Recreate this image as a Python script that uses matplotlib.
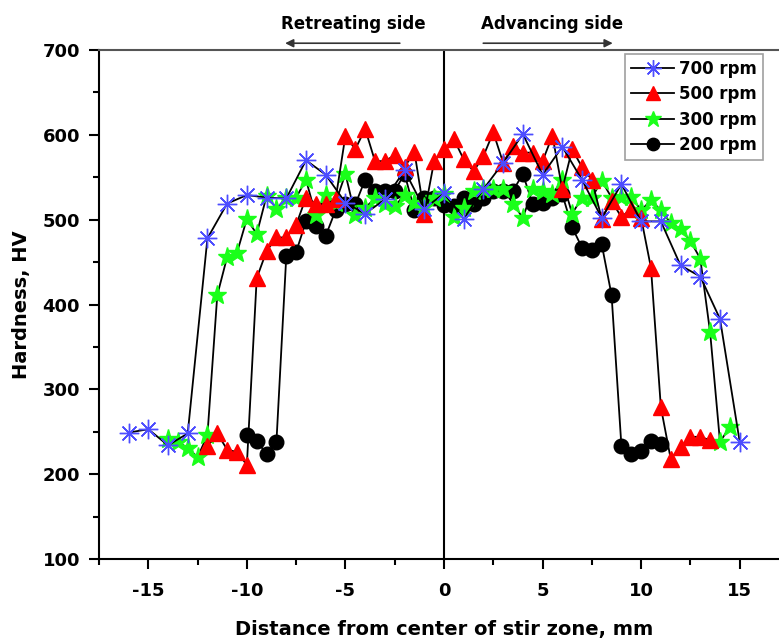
import matplotlib
matplotlib.use("Agg")
import matplotlib.pyplot as plt
import numpy as np

# ---------------- data ----------------
x700 = list(range(-16, 16))
y700 = [249, 253, 234, 248, 478, 519, 529, 526, 525, 570, 553, 520, 507, 524, 558, 513,
        531, 501, 536, 567, 601, 553, 586, 547, 502, 542, 498, 498, 446, 433, 383, 238]

x500 = [v / 2 for v in range(-24, 28)]
y500 = [233, 248, 229, 226, 211, 431, 463, 479, 479, 494, 526, 519, 518, 524, 599, 583,
        607, 569, 569, 576, 562, 580, 507, 569, 583, 595, 571, 557, 575, 603, 567, 587,
        579, 579, 569, 599, 536, 583, 562, 547, 501, 522, 503, 513, 502, 443, 279, 218,
        232, 244, 244, 240]

x300 = [v / 2 for v in range(-28, 30)]
y300 = [241, 238, 231, 220, 246, 411, 456, 461, 501, 483, 528, 513, 526, 526, 547, 505,
        529, 520, 554, 505, 514, 525, 518, 516, 529, 520, 515, 525, 530, 503, 514, 534,
        536, 536, 536, 519, 502, 536, 534, 530, 547, 507, 526, 526, 546, 526, 527, 527,
        511, 523, 511, 496, 489, 475, 454, 367, 238, 256]

x200 = [v / 2 for v in range(-20, 23)]
y200 = [246, 239, 224, 238, 457, 462, 498, 492, 481, 511, 518, 518, 547, 534, 534, 534,
        554, 511, 526, 526, 517, 516, 526, 518, 526, 534, 534, 534, 554, 518, 520, 526,
        530, 491, 467, 464, 471, 411, 233, 224, 227, 239, 235]

series_labels = ["700 rpm", "500 rpm", "300 rpm", "200 rpm"]
xticks = [-15, -10, -5, 0, 5, 10, 15]
yticks = [100, 200, 300, 400, 500, 600, 700]

# ---------------- figure ----------------
plt.rcParams['font.family'] = ['DejaVu Sans']
plt.rcParams['font.weight'] = 'bold'
plt.rcParams['axes.unicode_minus'] = False

fig = plt.figure(figsize=(7.79, 6.4), dpi=100)
ax = fig.add_axes([99 / 779, 81 / 640, 690 / 779, 509 / 640])

line_kw = dict(color='black', lw=1.3)
asterisk = (8, 2, 0)
ax.plot(x200, y200, marker='o', ms=10.5, mfc='black', mec='black', label=series_labels[3], zorder=3, **line_kw)
ax.plot(x300, y300, marker='*', ms=14, mfc='#1aff1a', mec='#1aff1a', label=series_labels[2], zorder=4, **line_kw)
ax.plot(x500, y500, marker='^', ms=12, mfc='#ff0000', mec='#ff0000', label=series_labels[1], zorder=5, **line_kw)
ax.plot(x700, y700, marker=asterisk, ms=14, mfc='#4d4dff', mec='#4d4dff', mew=1.0,
        label=series_labels[0], zorder=6, **line_kw)

ax.axvline(0, color='black', lw=1.5, zorder=2)

ax.set_xlim(-17.5, 17.5)
ax.set_ylim(100, 700)
ax.set_xticks(xticks)
ax.set_yticks(yticks)
ax.set_xticks(np.arange(-17.5, 17.6, 2.5), minor=True)
ax.set_yticks(np.arange(100, 701, 50), minor=True)
ax.tick_params(axis='both', which='major', direction='out', length=7, width=1.5,
               labelsize=13, top=False, right=False)
ax.tick_params(axis='both', which='minor', direction='out', length=4, width=1.5,
               top=False, right=False)
ax.tick_params(axis='x', which='major', pad=9.6)
ax.tick_params(axis='y', which='major', pad=6.7)
for lab in ax.get_xticklabels() + ax.get_yticklabels():
    lab.set_fontweight('bold')
for s in ax.spines.values():
    s.set_linewidth(1.5)
ax.spines['top'].set_color('#555555')

ax.set_xlabel("Distance from center of stir zone, mm", fontsize=14, fontweight='bold', labelpad=14)
ax.set_ylabel("Hardness, HV", fontsize=14, fontweight='bold', labelpad=8)

handles, labels = ax.get_legend_handles_labels()
order = [3, 2, 1, 0]
leg = ax.legend([handles[i] for i in order], [labels[i] for i in order],
                loc='upper right', bbox_to_anchor=(763 / 779, 586 / 640),
                bbox_transform=fig.transFigure,
                frameon=True, fancybox=False, edgecolor='#888888',
                handlelength=2.6, handletextpad=0.3, borderpad=0.35, labelspacing=0.45,
                borderaxespad=0, markerscale=0.85,
                prop={'weight': 'bold', 'size': 12})
leg.get_frame().set_linewidth(1.2)

# side annotations
ax.annotate("", xy=(-8.2, 708), xytext=(-2.1, 708), xycoords='data',
            arrowprops=dict(arrowstyle='-|>', color='#333333', lw=1.2, mutation_scale=12),
            annotation_clip=False)
ax.annotate("", xy=(8.7, 708), xytext=(1.85, 708), xycoords='data',
            arrowprops=dict(arrowstyle='-|>', color='#333333', lw=1.2, mutation_scale=12),
            annotation_clip=False)
ax.text(-4.6, 730.5, "Retreating side", ha='center', va='center', fontsize=12,
        fontweight='bold', clip_on=False)
ax.text(5.48, 730.5, "Advancing side", ha='center', va='center', fontsize=12,
        fontweight='bold', clip_on=False)

fig.savefig("out.png", dpi=100)
